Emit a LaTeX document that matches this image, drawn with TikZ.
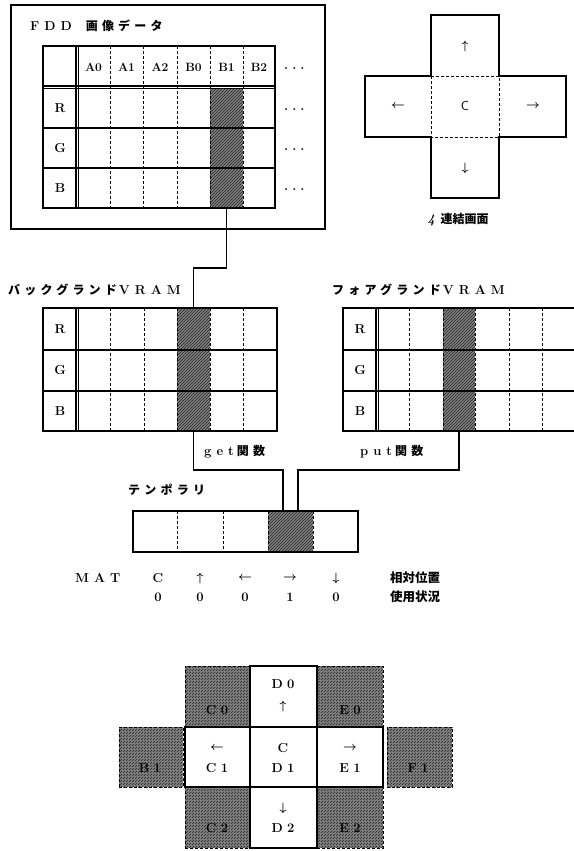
\documentclass[tikz,border=0pt]{standalone}
\usepackage{fontspec}
\newfontfamily\jp{Noto Sans CJK JP}
\newfontfamily\jpsp[LetterSpace=35]{Noto Sans CJK JP}
\newcommand\gp{\hspace{5pt}}
\newcommand\barr[1]{{\boldmath$#1$}}
\usetikzlibrary{calc,patterns}
\begin{document}
\begin{tikzpicture}[x=1pt,y=-1pt,
  frame/.style={draw,line width=1.3pt,inner sep=0,outer sep=0},
  gridl/.style={line width=1.2pt},
  dsh/.style={line width=1pt,dash pattern=on 3pt off 2pt},
  shd/.style={preaction={fill=black!50},pattern=north east lines,pattern color=black!85,inner sep=0,outer sep=0},
  lat/.style={font=\bfseries\fontsize{12}{12}\selectfont,inner sep=0},
  big/.style={font=\bfseries\fontsize{13}{13}\selectfont,inner sep=0},
  jpl/.style={font=\jpsp\bfseries\fontsize{12}{12}\selectfont,inner sep=0,anchor=west},
  cellw/.style={draw,line width=1.2pt,fill=white,inner sep=0,outer sep=0},
  cellg/.style={draw,line width=1pt,dash pattern=on 3pt off 2pt,shd},
  conn/.style={line width=1.1pt},
]
\useasboundingbox (0,0) rectangle (573,851);
\fill[white] (0,0) rectangle (573,851);

% ---------- FDD image data ----------
\node[frame,minimum width=314pt,minimum height=224pt] (fdd) at (168,117) {};
\node[jpl] (fddt) at (30,26) {{\rmfamily\bfseries\fontsize{13}{13}\selectfont F\gp D\gp D}\hspace{14pt}{\jpsp\bfseries 画像データ}};
\node[shd,minimum width=33pt,minimum height=120pt] (fddS) at (226.5,148) {};
\node[frame,minimum width=232pt,minimum height=162pt] (fddtab) at (159,127) {};
\draw[gridl] (43,86) -- (275,86) (43,88.5) -- (275,88.5);
\draw[gridl] (76,46) -- (76,208) (78.5,46) -- (78.5,208);
\draw[gridl] (43,128) -- (275,128) (43,168) -- (275,168);
\foreach \x in {110,143,177,210,243} \draw[dsh] (\x,46) -- (\x,208);
\foreach \t/\x in {A0/93.5,A1/126.5,A2/160,B0/193.5,B1/226.5,B2/259}
  \node[lat] (h\t) at (\x,67) {\t};
\foreach \t/\y in {R/108,G/148,B/188}
  \node[big] (f\t) at (60,\y) {\t};
\foreach \y/\n in {69/0,110/1,150/2,190/3}
  \node[big,anchor=west] (dots\n) at (284,\y) {.\hspace{4pt}.\hspace{4pt}.};

% ---------- 4-connected screen ----------
\draw[gridl] (431,15) -- (499,15) -- (499,76) -- (566,76) -- (566,137) -- (499,137)
  -- (499,198) -- (431,198) -- (431,137) -- (365,137) -- (365,76) -- (431,76) -- cycle;
\draw[dsh] (431,76) rectangle (499,137);
\node[big] (xu) at (465,47) {\barr{\uparrow}};
\node[big] (xl) at (398,106) {\barr{\leftarrow}};
\node[big,font=\sffamily\fontsize{13}{13}\selectfont] (xc) at (465,106) {C};
\node[big] (xr) at (533,106) {\barr{\rightarrow}};
\node[big] (xd) at (465,168) {\barr{\downarrow}};
\node[inner sep=0] (x4) at (458,220) {\fontsize{13}{13}\selectfont\bfseries\itshape 4 {\upshape\jp\bfseries\fontsize{12}{12}\selectfont 連結画面}};

% ---------- background VRAM ----------
\node[jpl] (bgt) at (8,290) {バックグランド\hspace{2pt}{\bfseries\fontsize{13}{13}\selectfont\rmfamily V\gp R\gp A\gp M}};
\node[shd,minimum width=33pt,minimum height=123pt] (bgS) at (193.5,369.5) {};
\node[frame,minimum width=234pt,minimum height=123pt] (bg) at (160,369.5) {};
\draw[gridl] (76,308) -- (76,431) (78.5,308) -- (78.5,431);
\draw[gridl] (43,350) -- (277,350) (43,391) -- (277,391);
\foreach \x in {110,144,177,210,243} \draw[dsh] (\x,308) -- (\x,431);
\foreach \t/\y in {R/329,G/370,B/411} \node[big] (b\t) at (60,\y) {\t};

% ---------- foreground VRAM ----------
\node[jpl] (fgt) at (332,290) {フォアグランド\hspace{2pt}{\bfseries\fontsize{13}{13}\selectfont\rmfamily V\gp R\gp A\gp M}};
\node[shd,minimum width=32pt,minimum height=123pt] (fgS) at (459,369.5) {};
\draw[line width=1.3pt] (580,308) -- (343,308) -- (343,431) -- (580,431);
\draw[gridl] (376,308) -- (376,431) (378.5,308) -- (378.5,431);
\draw[gridl] (343,350) -- (580,350) (343,391) -- (580,391);
\foreach \x in {409,443,475,509,542} \draw[dsh] (\x,308) -- (\x,431);
\foreach \t/\y in {R/329,G/370,B/411} \node[big] (g\t) at (360,\y) {\t};

% ---------- get / put ----------
\node[jpl] (gett) at (204,452) {{\bfseries\fontsize{13}{13}\selectfont\rmfamily g\gp e\gp t\hspace{3pt}}関数};
\node[jpl] (putt) at (360,452) {{\bfseries\fontsize{13}{13}\selectfont\rmfamily p\gp u\gp t\hspace{3pt}}関数};

% ---------- temporary ----------
\node[jpl] (tmpt) at (128,490) {テンポラリ};
\node[shd,minimum width=45pt,minimum height=41pt] (tmpS) at (290.5,531.5) {};
\node[frame,minimum width=225pt,minimum height=41pt] (tmp) at (245.5,531.5) {};
\foreach \x in {177,223,268,313} \draw[dsh] (\x,511) -- (\x,552);

% ---------- connectors ----------
\coordinate (jF) at (226.5,268);
\coordinate (jL) at (283,470);
\coordinate (jR) at (298,470);
\draw[conn] (fddS.south) -- (jF) -| (bgS.north);
\draw[conn] (bgS.south) |- (jL) -- (jL |- tmpS.north);
\draw[conn] (fgS.south) |- (jR) -- (jR |- tmpS.north);

% ---------- MAT ----------
\node[big,anchor=west] (mat) at (75,578) {M\gp A\gp T};
\node[big] (m1) at (158,578) {C};
\node[big] (m2) at (200,578) {\barr{\uparrow}};
\node[big] (m3) at (245,578) {\barr{\leftarrow}};
\node[big] (m4) at (290,578) {\barr{\rightarrow}};
\node[big] (m5) at (336,578) {\barr{\downarrow}};
\foreach \t/\x/\n in {0/158/1,0/200/2,0/245/3,1/290/4,0/336/5}
  \node[big] (u\n) at (\x,597) {\t};
\node[jpl,font=\jp\bfseries\fontsize{12.5}{12.5}\selectfont] (rel) at (390,578) {相対位置};
\node[jpl,font=\jp\bfseries\fontsize{12.5}{12.5}\selectfont] (use) at (390,597) {使用状況};

% ---------- bottom cross ----------
\node[cellg,minimum width=65pt,minimum height=61pt] (C0) at (217.5,696.5) {};
\node[cellg,minimum width=66pt,minimum height=61pt] (E0) at (350,696.5) {};
\node[cellg,minimum width=64pt,minimum height=60pt] (B1) at (151,757) {};
\node[cellg,minimum width=65pt,minimum height=60pt] (F1) at (419.5,757) {};
\node[cellg,minimum width=65pt,minimum height=61pt] (C2) at (217.5,817.5) {};
\node[cellg,minimum width=66pt,minimum height=61pt] (E2) at (350,817.5) {};
\node[cellw,minimum width=67pt,minimum height=61pt] (D0) at (283.5,696.5) {};
\node[cellw,minimum width=65pt,minimum height=60pt] (C1) at (217.5,757) {};
\node[cellw,minimum width=67pt,minimum height=60pt] (D1) at (283.5,757) {};
\node[cellw,minimum width=66pt,minimum height=60pt] (E1) at (350,757) {};
\node[cellw,minimum width=67pt,minimum height=61pt] (D2) at (283.5,817.5) {};
\node[big] (lD0) at (283,684) {D\,\,0};
\node[big] (aD0) at (283,706) {\barr{\uparrow}};
\node[big] (lC0) at (217,710) {C\,\,0};
\node[big] (lE0) at (350,710) {E\,\,0};
\node[big] (lB1) at (150,768) {B\,\,1};
\node[big] (aC1) at (217,748) {\barr{\leftarrow}};
\node[big] (lC1) at (217,768) {C\,\,1};
\node[big] (lC) at (283,748) {C};
\node[big] (lD1) at (283,768) {D\,\,1};
\node[big] (aE1) at (350,748) {\barr{\rightarrow}};
\node[big] (lE1) at (350,768) {E\,\,1};
\node[big] (lF1) at (418,768) {F\,\,1};
\node[big] (aD2) at (283,808) {\barr{\downarrow}};
\node[big] (lD2) at (283,828) {D\,\,2};
\node[big] (lC2) at (217,828) {C\,\,2};
\node[big] (lE2) at (350,828) {E\,\,2};
\end{tikzpicture}
\end{document}
